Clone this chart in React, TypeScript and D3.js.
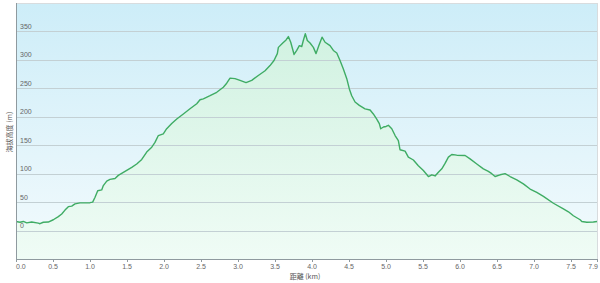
import React from "react";
import * as d3 from "d3";

const distances = [
  0, 0.054, 0.099, 0.145, 0.212, 0.301, 0.324, 0.369, 0.436, 0.504, 0.572, 0.618, 0.662, 0.707, 0.753, 0.797, 0.865,
  1.0, 1.036, 1.068, 1.104, 1.158, 1.18, 1.226, 1.27, 1.338, 1.382, 1.473, 1.564, 1.631, 1.699, 1.766, 1.834, 1.878,
  1.923, 1.99, 2.036, 2.104, 2.172, 2.261, 2.351, 2.442, 2.486, 2.531, 2.622, 2.712, 2.801, 2.847, 2.892, 2.959,
  3.027, 3.108, 3.185, 3.274, 3.365, 3.432, 3.486, 3.531, 3.545, 3.604, 3.649, 3.68, 3.712, 3.757, 3.793, 3.828,
  3.861, 3.882, 3.909, 3.936, 3.973, 4.018, 4.054, 4.091, 4.135, 4.176, 4.243, 4.288, 4.334, 4.378, 4.423, 4.469,
  4.504, 4.536, 4.581, 4.639, 4.716, 4.784, 4.828, 4.874, 4.909, 4.928, 4.964, 5.0, 5.031, 5.077, 5.122, 5.166,
  5.189, 5.257, 5.301, 5.369, 5.436, 5.504, 5.572, 5.618, 5.662, 5.707, 5.753, 5.797, 5.842, 5.888, 5.955, 6.068,
  6.135, 6.226, 6.315, 6.382, 6.428, 6.473, 6.541, 6.608, 6.676, 6.766, 6.855, 6.946, 7.036, 7.126, 7.261, 7.396,
  7.464, 7.531, 7.622, 7.645, 7.712, 7.801, 7.85,
];

const elevations = [
  16, 14.6, 16, 13.5, 15, 13, 12, 14.6, 15, 19, 24.6, 29, 36, 42, 43, 47, 48.6,
  49, 50, 58.6, 70, 71.5, 79, 87, 90, 91.5, 97, 104, 111, 117, 125, 138, 146.5, 155,
  167, 170, 179, 188, 196, 205, 214, 223, 230, 231.6, 237, 243, 252, 259, 268, 267,
  264, 260, 264, 272.6, 281, 290, 299, 311, 322, 329.6, 335, 341, 331, 309.5, 316.6, 325,
  323.6, 334, 346, 334, 329.6, 322, 311, 325, 340, 331, 325, 316.6, 312, 299, 284, 267,
  249, 237, 226, 220, 214, 212, 205, 196, 188, 179, 182, 183, 185, 179, 167, 158,
  142, 139.5, 129, 124, 114, 105.5, 95, 98, 96, 102.6, 108.5, 118, 129, 133.7, 132.5, 132,
  126, 117, 108.5, 104, 100, 95, 98, 100, 95, 89, 82, 73, 67, 60, 48, 38,
  33, 26, 19, 16, 14.6, 15, 16,
];

const yTicks = [0, 50, 100, 150, 200, 250, 300, 350];
const xTicks = [0, 0.5, 1.0, 1.5, 2.0, 2.5, 3.0, 3.5, 4.0, 4.5, 5.0, 5.5, 6.0, 6.5, 7.0, 7.5];
const xEndLabel = "7.9";
const yTitle = "海拔高度 (m)";
const xTitle = "距離 (km)";

export default function App() {
  const W = 600, H = 283;
  const left = 16, right = 597, top = 3, bottom = 259;
  const x = d3.scaleLinear().domain([0, 7.85]).range([left, right]);
  const y = d3.scaleLinear().domain([-50, 400]).range([bottom, top]);
  const pts = distances.map((d, i) => [d, elevations[i]] as [number, number]);
  const line = d3.line<[number, number]>().x(d => x(d[0])).y(d => y(d[1]))(pts) || "";
  const area = d3.area<[number, number]>().x(d => x(d[0])).y0(bottom).y1(d => y(d[1]))(pts) || "";
  const font = "'Liberation Sans', Arial, sans-serif";
  return (
    <svg width={W} height={H} style={{ position: "absolute", left: 0, top: 0 }} xmlns="http://www.w3.org/2000/svg">
      <defs>
        <linearGradient id="bg" x1="0" y1="0" x2="0" y2="1">
          <stop offset="0" stopColor="#cdedf8" />
          <stop offset="0.6" stopColor="#e4f5fb" />
          <stop offset="1" stopColor="#f3fbfd" />
        </linearGradient>
        <linearGradient id="ar" gradientUnits="userSpaceOnUse" x1="0" y1={top} x2="0" y2={bottom}>
          <stop offset="0" stopColor="#cdf1da" />
          <stop offset="1" stopColor="#effcf4" />
        </linearGradient>
      </defs>
      <rect x={0} y={0} width={W} height={H} fill="#ffffff" />
      <rect x={left} y={top} width={right - left} height={bottom - top} fill="url(#bg)" />
      <path d={area} fill="url(#ar)" fillOpacity={0.85} />
      {yTicks.map(t => (
        <line key={t} x1={left} x2={right} y1={Math.round(y(t)) + 0.5} y2={Math.round(y(t)) + 0.5} stroke="#c3d0d4" strokeWidth={1} />
      ))}
      <line x1={left} x2={right} y1={top + 0.5} y2={top + 0.5} stroke="#d8dcde" />
      <line x1={right + 0.5} x2={right + 0.5} y1={top} y2={bottom} stroke="#d8dcde" />
      <path d={line} fill="none" stroke="#3fac64" strokeWidth={1.4} strokeLinejoin="round" />
      <line x1={left + 0.5} x2={left + 0.5} y1={top} y2={bottom} stroke="#8f9a9f" />
      <line x1={left} x2={right + 1} y1={bottom + 0.5} y2={bottom + 0.5} stroke="#8f9a9f" />
      {yTicks.map(t => (
        <text key={t} x={left + 4} y={y(t) - 2.5} fontSize={7} fill="#666" fontFamily={font}>{t}</text>
      ))}
      {xTicks.map((t, i) => (
        <g key={t}>
          <line x1={Math.round(x(t)) + 0.5} x2={Math.round(x(t)) + 0.5} y1={bottom} y2={bottom + 3} stroke="#8f9a9f" />
          <text x={x(t)} y={bottom + 10} fontSize={7} fill="#666" fontFamily={font}
            textAnchor={i === 0 ? "start" : "middle"}>{t.toFixed(1)}</text>
        </g>
      ))}
      <line x1={right + 0.5} x2={right + 0.5} y1={bottom} y2={bottom + 3} stroke="#8f9a9f" />
      <text x={right + 1} y={bottom + 10} fontSize={7} fill="#666" fontFamily={font} textAnchor="end">{xEndLabel}</text>
      <text transform={`translate(12,${132}) rotate(-90)`} textAnchor="middle" fontSize={7} fill="#555"
        fontFamily="'Noto Sans CJK JP', sans-serif">{yTitle}</text>
      <text x={305} y={279} textAnchor="middle" fontSize={7} fill="#555" fontFamily="'Noto Sans CJK JP', sans-serif">{xTitle}</text>
    </svg>
  );
}
